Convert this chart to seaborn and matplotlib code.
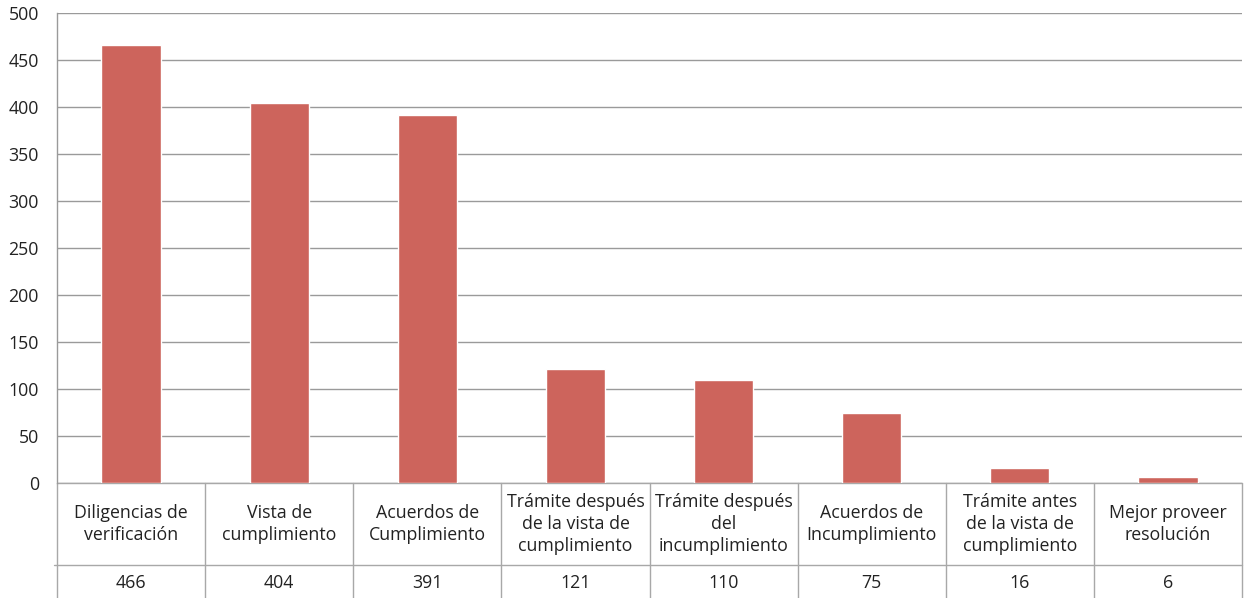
import matplotlib
matplotlib.use("Agg")
import matplotlib.pyplot as plt
import matplotlib.transforms as mtransforms
import seaborn as sns

categories = [
    "Diligencias de\nverificación",
    "Vista de\ncumplimiento",
    "Acuerdos de\nCumplimiento",
    "Trámite después\nde la vista de\ncumplimiento",
    "Trámite después\ndel\nincumplimiento",
    "Acuerdos de\nIncumplimiento",
    "Trámite antes\nde la vista de\ncumplimiento",
    "Mejor proveer\nresolución",
]
values = [466, 404, 391, 121, 110, 75, 16, 6]
yticks = [0, 50, 100, 150, 200, 250, 300, 350, 400, 450, 500]

sns.set_style("white")
plt.rcParams["font.family"] = ["Open Sans", "DejaVu Sans"]

W, H = 1250, 598
fig = plt.figure(figsize=(12.5, 5.98), dpi=100)
left, right, top, bottom = 57, 1242, 13, 483
ax = fig.add_axes([left / W, 1 - bottom / H, (right - left) / W, (bottom - top) / H])

bar_color = "#CD645C"
sns.barplot(x=list(range(len(values))), y=values, color=bar_color, width=0.4,
            saturation=1, ax=ax, zorder=3)

fs = 12.8
ax.set_xlim(-0.5, len(values) - 0.5)
ax.set_ylim(0, 500)
ax.set_yticks(yticks)
ax.set_yticklabels([str(t) for t in yticks], fontsize=fs, color="#222222")
ax.tick_params(axis="y", length=0, pad=13)
ax.set_xticks([])
ax.set_xlabel("")
ax.set_ylabel("")
ax.yaxis.grid(True, color="#9a9a9a", linewidth=1.0, zorder=0)
ax.set_axisbelow(True)
for s in ["top", "right", "bottom"]:
    ax.spines[s].set_visible(False)
ax.spines["left"].set_color("#9a9a9a")
ax.spines["left"].set_linewidth(1.0)

# data table below the axes
trans = mtransforms.blended_transform_factory(ax.transData, ax.transAxes)
ph = bottom - top
y_cat_bottom = -(565 - bottom) / ph
y_val_bottom = -(600 - bottom) / ph
line_kw = dict(color="#a8a8a8", linewidth=1.0, clip_on=False, transform=trans)
n = len(values)
for i in range(n + 1):
    xb = i - 0.5
    ax.plot([xb, xb], [0, y_val_bottom], **line_kw)
ax.plot([-0.5, n - 0.5], [0, 0], **line_kw)
ax.plot([-0.52, n - 0.5], [y_cat_bottom, y_cat_bottom], **line_kw)

for i, (c, v) in enumerate(zip(categories, values)):
    ax.text(i, y_cat_bottom / 2, c, transform=trans, ha="center", va="center",
            fontsize=fs, color="#222222", linespacing=1.3, clip_on=False)
    ax.text(i, (y_cat_bottom + -(600 - bottom) / ph) / 2, str(v), transform=trans,
            ha="center", va="center", fontsize=fs, color="#222222", clip_on=False)

fig.savefig("out.png", dpi=100, facecolor="white")
